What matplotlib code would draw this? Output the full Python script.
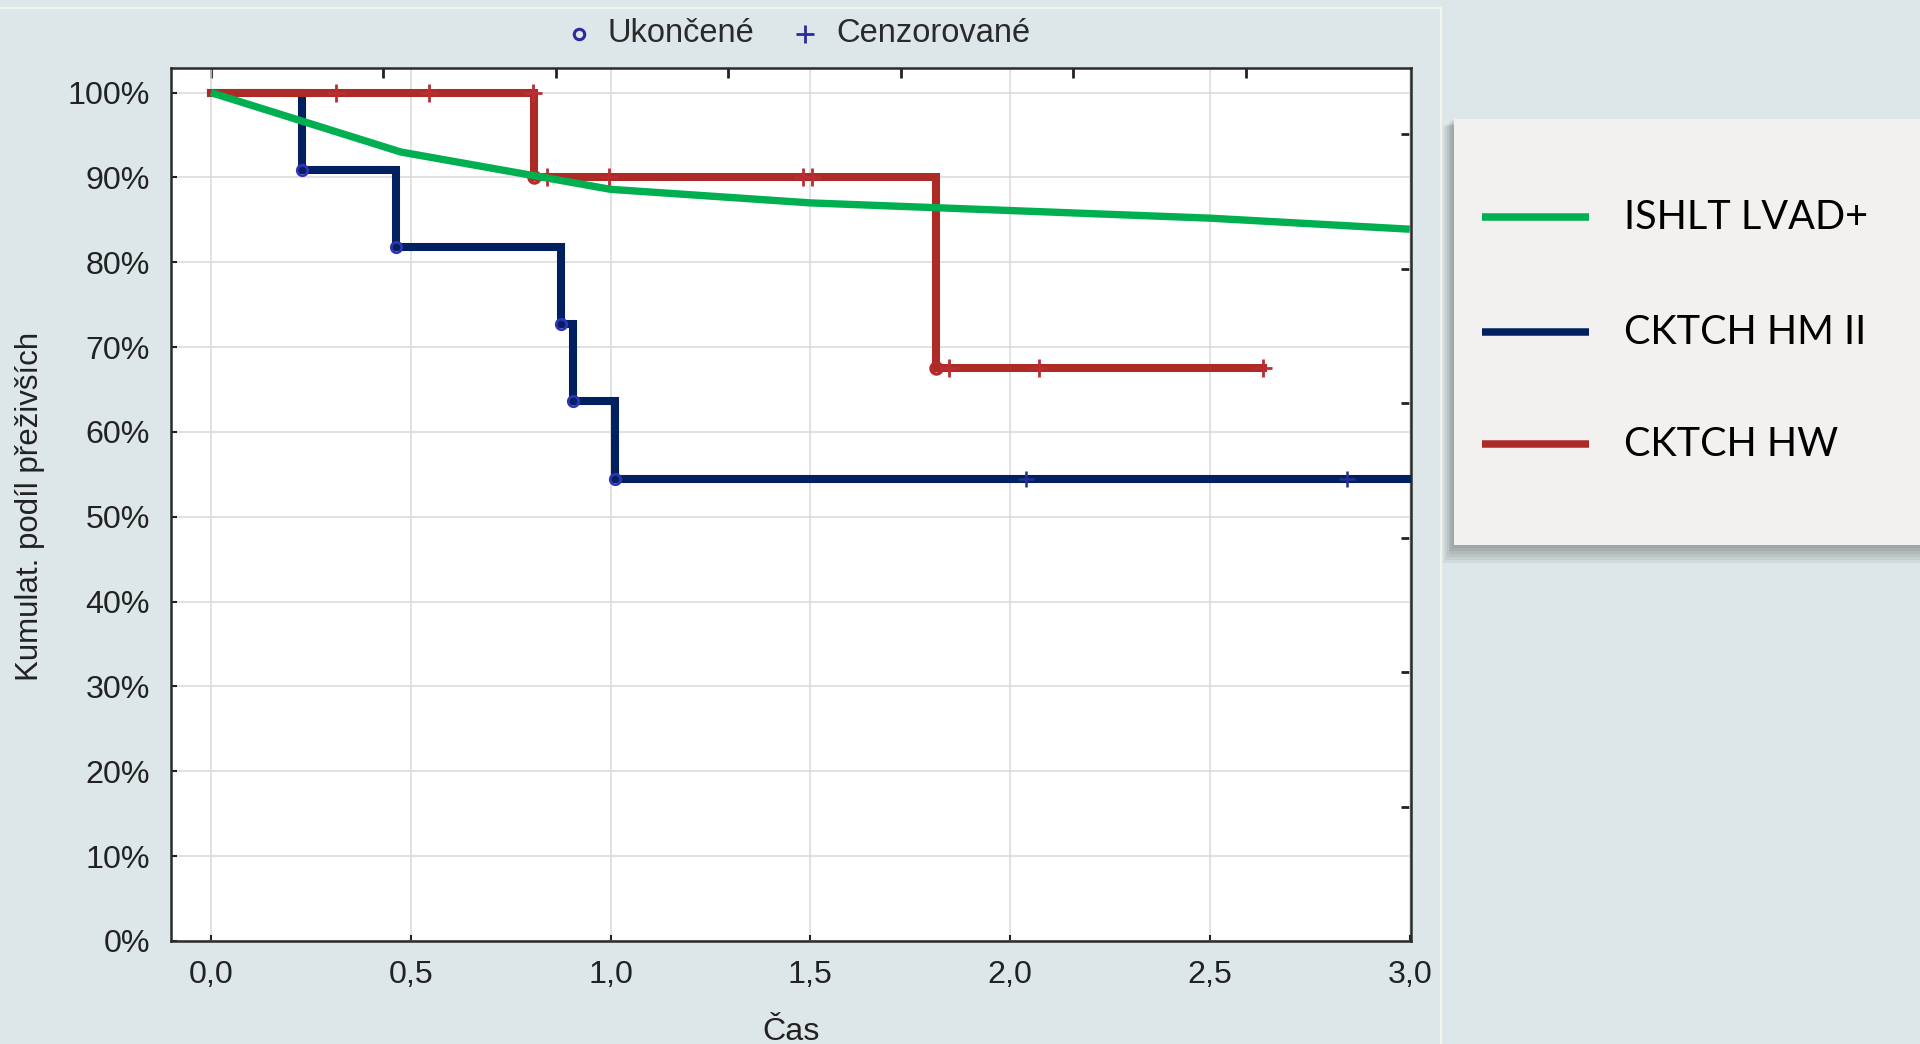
import matplotlib
matplotlib.use("Agg")
import matplotlib.pyplot as plt
from matplotlib.patches import Rectangle
import numpy as np

# ---------------- data ----------------
ishlt_t = [0.0, 0.475, 1.0, 1.5, 2.0, 2.5, 3.0]
ishlt_s = [1.000, 0.930, 0.886, 0.870, 0.861, 0.852, 0.839]

hm2_t = [0.0, 0.229, 0.463, 0.876, 0.905, 1.010, 3.0]
hm2_s = [1.000, 0.909, 0.818, 0.727, 0.636, 0.545, 0.545]
hm2_event_t = [0.229, 0.463, 0.876, 0.905, 1.010]
hm2_event_s = [0.909, 0.818, 0.727, 0.636, 0.545]
hm2_cens_t = [2.040, 2.842]
hm2_cens_s = [0.545, 0.545]

hw_t = [0.0, 0.809, 1.815, 2.632]
hw_s = [1.000, 0.900, 0.675, 0.675]
hw_event_t = [0.809, 1.815]
hw_event_s = [0.900, 0.675]
hw_cens_t = [0.314, 0.546, 0.805, 0.842, 0.995, 1.481, 1.503, 1.848, 2.072, 2.632]
hw_cens_s = [1.0, 1.0, 1.0, 0.9, 0.9, 0.9, 0.9, 0.675, 0.675, 0.675]

xticks = [0.0, 0.5, 1.0, 1.5, 2.0, 2.5, 3.0]
xtick_labels = ["0,0", "0,5", "1,0", "1,5", "2,0", "2,5", "3,0"]
yticks = [i / 10 for i in range(11)]
ytick_labels = [f"{i*10}%" for i in range(11)]

series_names = ["ISHLT LVAD+", "CKTCH HM II", "CKTCH HW"]
series_colors = ["#00b050", "#002060", "#ad2b27"]

BG = "#dde6e8"
W, H = 1920, 1044
fig = plt.figure(figsize=(W / 100, H / 100), dpi=100, facecolor=BG)

# overlay axes in pixel coordinates for decoration
ov = fig.add_axes([0, 0, 1, 1], zorder=0)
ov.set_xlim(0, W)
ov.set_ylim(H, 0)
ov.axis("off")
ov.patch.set_visible(False)

# faint panel border
ov.plot([0, 1441, 1441], [8, 8, H], color="#f2f5ea", lw=1.5, zorder=1)

# legend box with shadow
bx0, by0, bx1, by1 = 1454, 119, 1920, 545
for i in range(6):
    off = 3 + i * 3
    ov.add_patch(Rectangle((bx0 - off * 0.6, by0 + off * 0.4), bx1 - bx0 + off, by1 - by0 + off * 0.6,
                           facecolor="#000000", alpha=0.05, edgecolor="none", zorder=2))
ov.add_patch(Rectangle((bx0, by0), bx1 - bx0, by1 - by0, facecolor="#f2f1f0",
                       edgecolor="none", zorder=3))
leg_y = [216.7, 332, 444]
for name, col, yy in zip(series_names, series_colors, leg_y):
    ov.plot([1482, 1589], [yy, yy], color=col, lw=5.4, solid_capstyle="butt", zorder=4)
    ov.text(1624, yy + 1, name, fontsize=28.5, family="Lato", color="#000000",
            ha="left", va="center", zorder=4)

# top legend (markers)
ov.plot([579], [34], marker="o", ms=7.5, mfc="none", mec="#2b2b9c", mew=2.2, zorder=4)
ov.plot([805], [34], marker="+", ms=13, mec="#2b2b9c", mew=2.0, zorder=4)
ov.text(607, 33, "Ukončené", fontsize=23.5, family="Liberation Sans", color="#2a2a2a",
        ha="left", va="center", zorder=4)
ov.text(836, 33, "Cenzorované", fontsize=23.5, family="Liberation Sans", color="#2a2a2a",
        ha="left", va="center", zorder=4)

# ---------------- main axes ----------------
ax_l, ax_r, ax_t, ax_b = 171, 1411, 68, 941
ax = fig.add_axes([ax_l / W, 1 - ax_b / H, (ax_r - ax_l) / W, (ax_b - ax_t) / H], zorder=5)
ax.set_facecolor("white")
ax.set_xlim(-0.1, 3.003)
ax.set_ylim(0, 1.029)

ax.set_xticks(xticks)
ax.set_xticklabels(xtick_labels)
ax.set_yticks(yticks)
ax.set_yticklabels(ytick_labels)
ax.grid(True, color="#d9d9d9", lw=1.1, zorder=0)
ax.set_axisbelow(True)
for lab in ax.get_xticklabels() + ax.get_yticklabels():
    lab.set_family("Liberation Sans")
    lab.set_fontsize(23.2)
    lab.set_color("#222222")
ax.tick_params(axis="both", direction="in", length=4, width=1.5, color="#222222")
ax.tick_params(axis="y", pad=15)
ax.tick_params(axis="x", pad=14)
for sp in ax.spines.values():
    sp.set_color("#2b2b2b")
    sp.set_linewidth(1.8)

# secondary ticks on top and right (Statistica style)
top_ticks = [0.0, 0.4316, 0.8632, 1.2948, 1.7264, 2.158, 2.5896]
right_ticks = [0.1585, 0.317, 0.4755, 0.634, 0.7925, 0.951]
secx = ax.secondary_xaxis("top")
secx.set_xticks(top_ticks)
secx.set_xticklabels([])
secx.tick_params(direction="in", length=7, width=2, color="#222222")
secx.spines["top"].set_visible(False)
secy = ax.secondary_yaxis("right")
secy.set_yticks(right_ticks)
secy.set_yticklabels([])
secy.tick_params(direction="in", length=7, width=2, color="#222222")
secy.spines["right"].set_visible(False)

# blue (HM II)
ax.plot(hm2_t, hm2_s, drawstyle="steps-post", color=series_colors[1], lw=5.8,
        solid_joinstyle="miter", zorder=3)
ax.plot(hm2_event_t, hm2_event_s, ls="none", marker="o", ms=7.5, mfc="none",
        mec="#3232b4", mew=2.0, zorder=3.2)
ax.plot(hm2_cens_t, hm2_cens_s, ls="none", marker="+", ms=12, mec="#2b2b96", mew=1.8, zorder=3.2)

# red (HW) drawn above blue
ax.plot(hw_t, hw_s, drawstyle="steps-post", color=series_colors[2], lw=5.8,
        solid_joinstyle="miter", zorder=4)
ax.plot(hw_event_t, hw_event_s, ls="none", marker="o", ms=8, mfc="none",
        mec="#b52a2a", mew=2.4, zorder=4.2)
ax.plot(hw_cens_t, hw_cens_s, ls="none", marker="+", ms=13, mec="#bb2d33", mew=2.0, zorder=4.2)

# green (ISHLT)
ax.plot(ishlt_t, ishlt_s, color=series_colors[0], lw=5.3, solid_capstyle="butt", zorder=6)

# axis labels
fig.text(30 / W, 1 - 506 / H, "Kumulat. podíl přeživších", rotation=90, fontsize=22.5,
         family="Liberation Sans", color="#222222", ha="center", va="center")
fig.text(791 / W, 1 - 1032 / H, "Čas", fontsize=23.2, family="Liberation Sans",
         color="#222222", ha="center", va="center")

fig.savefig("out.png", dpi=100, facecolor=BG)
